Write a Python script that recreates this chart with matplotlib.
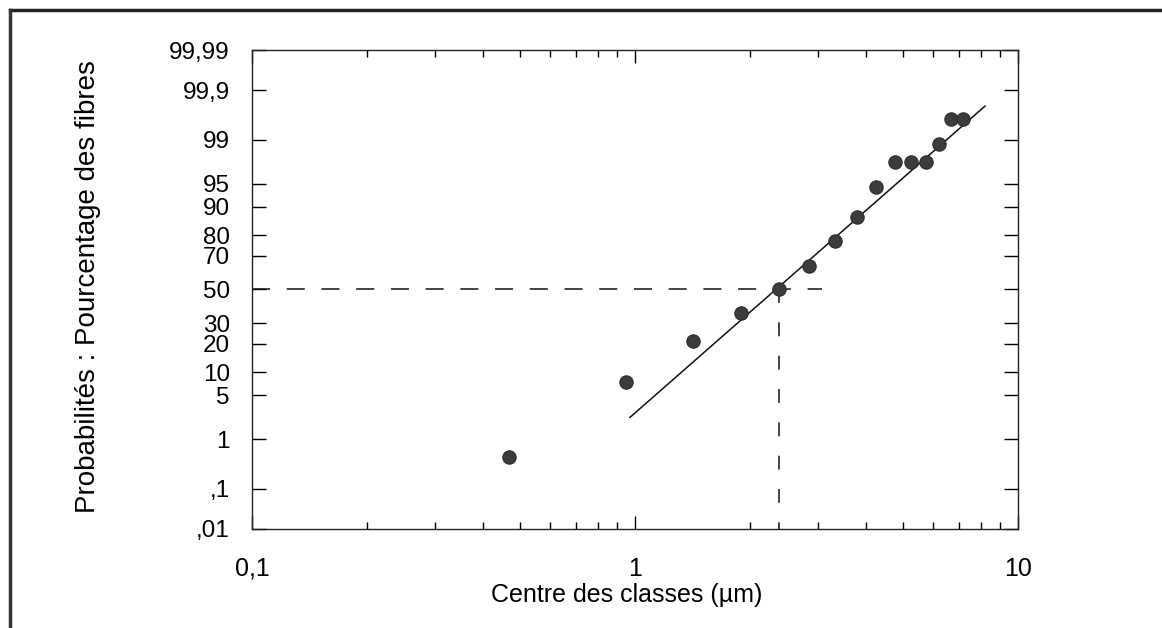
import numpy as np
import matplotlib
matplotlib.use('Agg')
import matplotlib.pyplot as plt
from matplotlib.lines import Line2D
from statistics import NormalDist

# ---- data ----
diam = [0.469, 0.947, 1.417, 1.89, 2.38, 2.84, 3.33, 3.79, 4.26, 4.76, 5.27, 5.74, 6.21, 6.67, 7.20]
pct = [0.455, 7.55, 21.4, 35.9, 50.0, 64.5, 77.2, 86.9, 94.5, 97.6, 97.6, 97.6, 98.8, 99.60, 99.60]
fit_x = [0.97, 8.2]
fit_pct = [2.35, 99.78]
median_d = 2.38
median_pct = 50.0
hline_end = 3.08
yticks = [0.01, 0.1, 1, 5, 10, 20, 30, 50, 70, 80, 90, 95, 99, 99.9, 99.99]
ytick_labels = [',01', ',1', '1', '5', '10', '20', '30', '50', '70', '80', '90', '95', '99', '99,9', '99,99']
xticks = [0.1, 1, 10]
xtick_labels = ['0,1', '1', '10']
xlabel = 'Centre des classes (µm)'
ylabel = 'Probabilités : Pourcentage des fibres'

plt.rcParams['font.family'] = ['Liberation Sans', 'DejaVu Sans']
plt.rcParams['lines.scale_dashes'] = False

nd = NormalDist()
def z(p):
    return np.array([nd.inv_cdf(v / 100.0) for v in np.atleast_1d(p)])

W, H = 1162, 628
fig = plt.figure(figsize=(W / 100, H / 100), dpi=100)
L, R, T, B = 252, 1018, 50, 529
ax = fig.add_axes([L / W, 1 - B / H, (R - L) / W, (B - T) / H])

ax.set_xscale('log')
ax.set_xlim(0.1, 10)
ax.set_ylim(z(0.01)[0], z(99.99)[0])

ax.plot(diam, z(pct), 'o', ms=9.6, color='#3c3c3c', mec='#2a2a2a', mew=0.8, zorder=4)
ax.plot(fit_x, z(fit_pct), color='#111111', lw=1.1, zorder=3)

hl = Line2D([0.1, hline_end], [z(median_pct)[0]] * 2, color='#111111', lw=1.1)
hl.set_dashes((13, 12))
ax.add_line(hl)
vl = Line2D([median_d] * 2, [z(median_pct)[0], z(0.01)[0]], color='#111111', lw=1.1)
vl.set_dashes((10, 14))
ax.add_line(vl)

ax.set_yticks(z(yticks))
ax.set_yticklabels(ytick_labels)
ax.set_xticks(xticks)
ax.set_xticklabels(xtick_labels)

ax.tick_params(axis='y', which='major', direction='in', length=10, width=1.0,
               left=True, right=True, labelsize=17.5, pad=16)
ax.tick_params(axis='x', which='major', direction='in', length=9.5, width=1.0,
               top=True, bottom=True, labelsize=18, pad=20)
ax.tick_params(axis='x', which='minor', direction='in', length=5, width=1.0,
               top=True, bottom=True)
for s in ax.spines.values():
    s.set_linewidth(1.0)
    s.set_color('#222222')

fig.text(627 / W, 1 - 595 / H, xlabel, ha='center', va='center', fontsize=18)
fig.text(88 / W, 1 - 60 / H, ylabel, ha='center', va='top', rotation=90, fontsize=20)

# page frame lines (top and left)
fig.add_artist(Line2D([10 / W, 1160 / W], [1 - 10 / H, 1 - 10 / H], color='#222222', lw=2.5))
fig.add_artist(Line2D([10 / W, 10 / W], [1 - 10 / H, 0], color='#333333', lw=2.5))

fig.savefig('out.png', dpi=100)
